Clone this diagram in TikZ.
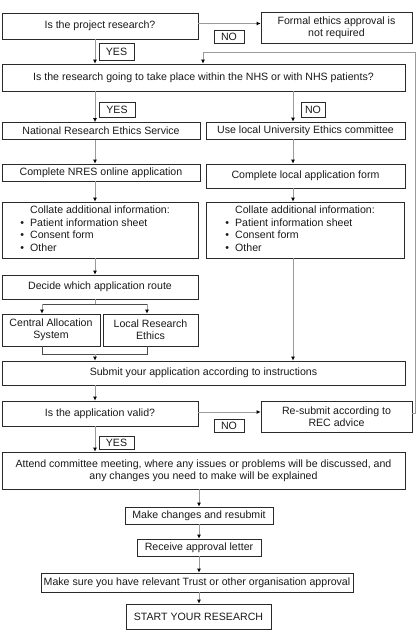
\documentclass[tikz,border=0pt]{standalone}
\usepackage{fontspec}
\setmainfont{Liberation Sans}
\usetikzlibrary{arrows.meta}
\definecolor{edge}{HTML}{2A2A2A}
\definecolor{conn}{HTML}{9A9A9A}
\tikzset{
  box/.style={draw=edge, line width=0.8pt, rectangle, inner sep=1pt, align=center,
    font=\fontsize{10.6}{12.4}\selectfont, text=black!90},
  lbl/.style={draw=edge, line width=0.7pt, rectangle, inner sep=0pt, align=center,
    font=\fontsize{10.6}{12.4}\selectfont, text=black!90},
  arr/.style={draw=conn, line width=0.8pt, -{Latex[length=4pt,width=4pt,black]}},
  ln/.style={draw=conn, line width=0.8pt},
  jn/.style={draw=black!70, line width=0.8pt},
}
\begin{document}
\begin{tikzpicture}[x=1pt,y=-1pt]
\useasboundingbox (0,0) rectangle (417,630);
\coordinate (cL) at (95,0);
\coordinate (cR) at (293,0);
\coordinate (cM) at (199,0);
\coordinate (cF) at (203,0);
% boxes
\node[box, minimum width=196, minimum height=26] (proj) at (100,26) {Is the project research?};
\node[box, minimum width=151, minimum height=31] (formal) at (336.5,27.5) {Formal ethics approval is\\not required};
\node[box, minimum width=403, minimum height=27] (nhs) at (203.5,77.5) {Is the research going to take place within the NHS or with NHS patients?};
\node[box, minimum width=198, minimum height=17] (nres) at (101,131) {National Research Ethics Service};
\node[box, minimum width=199, minimum height=17] (univ) at (305.5,130.5) {Use local University Ethics committee};
\node[box, minimum width=198, minimum height=17] (cnres) at (101,172.5) {Complete NRES online application};
\node[box, minimum width=199, minimum height=24] (clocal) at (305.5,176) {Complete local application form};
\node[box, minimum width=196, minimum height=56] (colL) at (100,230) {\begin{tabular}{@{}l@{}}Collate additional information:\\\llap{\textbullet\hspace{6pt}}Patient information sheet\\\llap{\textbullet\hspace{6pt}}Consent form\\\llap{\textbullet\hspace{6pt}}Other\end{tabular}};
\node[box, minimum width=198, minimum height=56] (colR) at (305,230) {\begin{tabular}{@{}l@{}}Collate additional information:\\\llap{\textbullet\hspace{6pt}}Patient information sheet\\\llap{\textbullet\hspace{6pt}}Consent form\\\llap{\textbullet\hspace{6pt}}Other\end{tabular}};
\node[box, minimum width=196, minimum height=24] (decide) at (100,287) {Decide which application route};
\node[box, minimum width=98, minimum height=32] (cas) at (51,330) {Central Allocation\\System};
\node[box, minimum width=95, minimum height=32] (lre) at (150.5,330) {Local Research\\Ethics};
\node[box, minimum width=403, minimum height=24] (submit) at (203.5,373) {Submit your application according to instructions};
\node[box, minimum width=196, minimum height=25] (valid) at (100,413.5) {Is the application valid?};
\node[box, minimum width=151, minimum height=31] (resub) at (336.5,416.5) {Re-submit according to\\REC advice};
\node[box, minimum width=403, minimum height=37] (attend) at (203.5,470.5) {Attend committee meeting, where any issues or problems will be discussed, and\\any changes you need to make will be explained};
\node[box, minimum width=148, minimum height=17] (mchg) at (199,515.5) {Make changes and resubmit};
\node[box, minimum width=124, minimum height=17] (recv) at (199,547.5) {Receive approval letter};
\node[box, minimum width=312, minimum height=19] (trust) at (197,582.5) {Make sure you have relevant Trust or other organisation approval};
\node[box, minimum width=145, minimum height=25] (start) at (198.5,616.5) {START YOUR RESEARCH};
% labels
\node[lbl, minimum width=35, minimum height=17] (yes1) at (116.5,51.5) {YES};
\node[lbl, minimum width=30, minimum height=13] (no1) at (229,36.5) {NO};
\node[lbl, minimum width=36, minimum height=15] (yes2) at (117,109.5) {YES};
\node[lbl, minimum width=24, minimum height=15] (no2) at (313,109.5) {NO};
\node[lbl, minimum width=30, minimum height=13] (no3) at (229,425.5) {NO};
\node[lbl, minimum width=35, minimum height=13] (yes3) at (116.5,442.5) {YES};
% junction coordinates
\coordinate (jTop) at (95,304);
\coordinate (jTL) at (42,304);
\coordinate (jTR) at (147,304);
\coordinate (jBot) at (95,354);
\coordinate (jBL) at (42,354);
\coordinate (jBR) at (147,354);
\coordinate (fbR) at (415,413);
\coordinate (fbT) at (415,52);
% connectors
\draw[arr] ([yshift=2.5pt]proj.east) -- ([yshift=2.5pt]proj.east -| formal.west);
\draw[arr] (proj.south -| cL) -- (nhs.north -| cL);
\draw[arr] (nhs.south -| cL) -- (nres.north -| cL);
\draw[arr] (nhs.south -| cR) -- (univ.north -| cR);
\draw[arr] (nres.south -| cL) -- (cnres.north -| cL);
\draw[arr] (univ.south -| cR) -- (clocal.north -| cR);
\draw[arr] (cnres.south -| cL) -- (colL.north -| cL);
\draw[arr] (clocal.south -| cR) -- (colR.north -| cR);
\draw[arr] (colL.south -| cL) -- (decide.north -| cL);
\draw[ln] (decide.south -| cL) -- (jTop);
\draw[jn] (jTL) -- (jTR);
\draw[arr] (jTL) -- (cas.north -| jTL);
\draw[arr] (jTR) -- (lre.north -| jTR);
\draw[jn] (cas.south -| jBL) -- (jBL) -- (jBR) -- (lre.south -| jBR);
\draw[arr] (jBot) -- (submit.north -| jBot);
\draw[arr] (colR.south -| cR) -- (submit.north -| cR);
\draw[arr] (submit.south -| cL) -- (valid.north -| cL);
\draw[arr] ([yshift=1.5pt]valid.east) -- ([yshift=1.5pt]valid.east -| resub.west);
\draw[arr] (resub.east |- fbR) -- (fbR) -- (fbT) -- (fbT -| cF) -- (nhs.north -| cF);
\draw[arr] (valid.south -| cL) -- (attend.north -| cL);
\draw[arr] (attend.south -| cM) -- (mchg.north -| cM);
\draw[arr] (mchg.south -| cM) -- (recv.north -| cM);
\draw[arr] (recv.south -| cM) -- (trust.north -| cM);
\draw[arr] (trust.south -| cM) -- (start.north -| cM);
\end{tikzpicture}
\end{document}
